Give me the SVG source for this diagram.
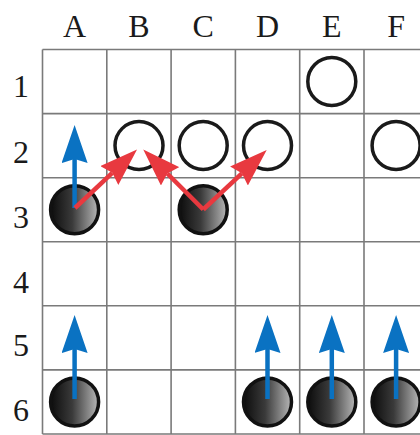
<svg xmlns="http://www.w3.org/2000/svg" width="420" height="435" viewBox="0 0 420 435">
<style>
.grid{stroke:#7a7a7a;stroke-width:1.6;fill:none}
.lbl{font-family:"Liberation Serif","Times New Roman",serif;font-size:32px;fill:#1a1a1a;text-anchor:middle}
.white{fill:#fff;stroke:#1a1a1a;stroke-width:3.5}
.black{fill:url(#stoneGrad);stroke:#111;stroke-width:3.5}
.blue{stroke:#0a72c2;stroke-width:4.5;fill:none;marker-end:url(#headBlue)}
.red{stroke:#e8393f;stroke-width:4.5;fill:none;marker-end:url(#headRed)}
</style>
<defs>
<linearGradient id="stoneGrad" x1="0" y1="0" x2="1" y2="0">
<stop offset="0" stop-color="#0c0c0c"/>
<stop offset="0.45" stop-color="#3a3a3a"/>
<stop offset="1" stop-color="#b8b8b8"/>
</linearGradient>
<marker id="headBlue" viewBox="0 0 38 26" markerWidth="38" markerHeight="26" refX="4" refY="13" orient="auto" markerUnits="userSpaceOnUse">
<path d="M0,0 L38,13 L0,26 L4,13 z" fill="#0a72c2"/>
</marker>
<marker id="headRed" viewBox="0 0 38 26" markerWidth="38" markerHeight="26" refX="4" refY="13" orient="auto" markerUnits="userSpaceOnUse">
<path d="M0,0 L38,13 L0,26 L4,13 z" fill="#e8393f"/>
</marker>
</defs>
<rect width="420" height="435" fill="#fff"/>
<g id="board">
<path class="grid" d="M42.5,49.5V434 M106.8,49.5V434 M171.1,49.5V434 M235.4,49.5V434 M299.7,49.5V434 M364,49.5V434 M42.5,49.5H430 M42.5,113.6H430 M42.5,177.7H430 M42.5,241.7H430 M42.5,305.8H430 M42.5,369.9H430 M42.5,434H430"/>
</g>
<g id="labels">
<text class="lbl" x="74.6" y="37">A</text>
<text class="lbl" x="139" y="37">B</text>
<text class="lbl" x="203.2" y="37">C</text>
<text class="lbl" x="267.5" y="37">D</text>
<text class="lbl" x="331.8" y="37">E</text>
<text class="lbl" x="396.1" y="37">F</text>
<text class="lbl" x="21" y="97">1</text>
<text class="lbl" x="21" y="163">2</text>
<text class="lbl" x="21" y="228">3</text>
<text class="lbl" x="21" y="293">4</text>
<text class="lbl" x="21" y="356">5</text>
<text class="lbl" x="21" y="421">6</text>
</g>
<g id="E1"><circle class="white" cx="331.8" cy="81.5" r="24"/></g>
<g id="B2"><circle class="white" cx="139" cy="145.6" r="24"/></g>
<g id="C2"><circle class="white" cx="203.2" cy="145.6" r="24"/></g>
<g id="D2"><circle class="white" cx="267.5" cy="145.6" r="24"/></g>
<g id="F2"><circle class="white" cx="396.1" cy="145.6" r="24"/></g>
<g id="A3"><circle class="black" cx="74.6" cy="209.7" r="24"/></g>
<g id="C3"><circle class="black" cx="203.2" cy="209.7" r="24"/></g>
<g id="A6"><circle class="black" cx="74.6" cy="402" r="24"/></g>
<g id="D6"><circle class="black" cx="267.5" cy="402" r="24"/></g>
<g id="E6"><circle class="black" cx="331.8" cy="402" r="24"/></g>
<g id="F6"><circle class="black" cx="396.1" cy="402" r="24"/></g>
<g id="connectors">
<line class="blue" x1="74.6" y1="208" x2="74.6" y2="159"/>
<line class="blue" x1="74.6" y1="399" x2="74.6" y2="349"/>
<line class="blue" x1="267.5" y1="399" x2="267.5" y2="349"/>
<line class="blue" x1="331.8" y1="399" x2="331.8" y2="349"/>
<line class="blue" x1="396.1" y1="399" x2="396.1" y2="349"/>
<line class="red" x1="75" y1="208" x2="112.3" y2="172.8"/>
<line class="red" x1="203.3" y1="209.5" x2="167.3" y2="173.5"/>
<line class="red" x1="203.3" y1="209.5" x2="241.9" y2="173.3"/>
</g>
</svg>
